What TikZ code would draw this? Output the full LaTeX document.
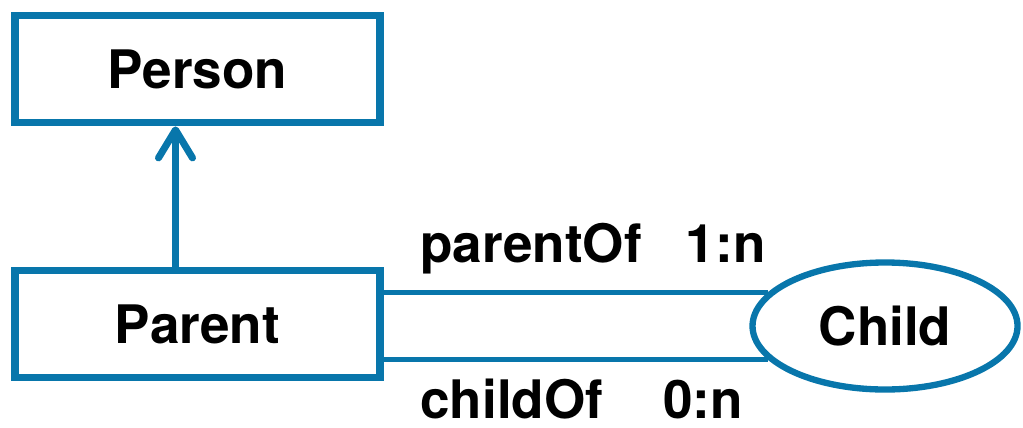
\documentclass[tikz,border=0pt]{standalone}
\usepackage{fontspec}
\setmainfont{TeX Gyre Heros}
\usetikzlibrary{arrows.meta,positioning,shapes.geometric}
\definecolor{umlblue}{RGB}{8,118,171}
\newcommand{\lblfont}{\bfseries\fontsize{15.1}{17}\selectfont}

\begin{document}
\begin{tikzpicture}[thick,
    cls/.style = {draw=umlblue, line width=2.2pt, minimum width=3.65cm, minimum height=1.07cm, font=\lblfont},
    obj/.style = {draw=umlblue, ellipse, line width=1.8pt, minimum width=2.65cm, minimum height=1.27cm, font=\lblfont},
    rel/.style = {draw=umlblue, line width=1.3pt},
    role/.style = {anchor=base west, inner sep=0pt, font=\lblfont}]
    \useasboundingbox (0,0) rectangle (10.23,4.27);

    % Class boxes and the instance
    \node[cls] (person) at (1.975, 3.58) {Person};
    \node[cls] (parent) at (1.975, 1.03) {Parent};
    \node[obj] (child) at (8.85, 1.01) {Child};

    % Generalisation arrow
    \draw[rel, line width=2pt, -{Straight Barb[length=2.8mm, width=3.4mm, line cap=round, line join=round]}]
        ([xshift=-0.22cm]parent.north) -- ([xshift=-0.22cm]person.south);

    % Associations between parent and child
    \draw[rel] (parent.east |- child.164) -- (child.164);
    \draw[rel] (parent.east |- child.196) -- (child.196);

    % Role names and multiplicities
    \node[role] (parentOf) at (4.19, 1.65) {parentOf\hspace{0.44cm}1:n};
    \node[role] (childOf) at (4.19, 0.09) {childOf\hspace{0.6cm}0:n};
\end{tikzpicture}
\end{document}
